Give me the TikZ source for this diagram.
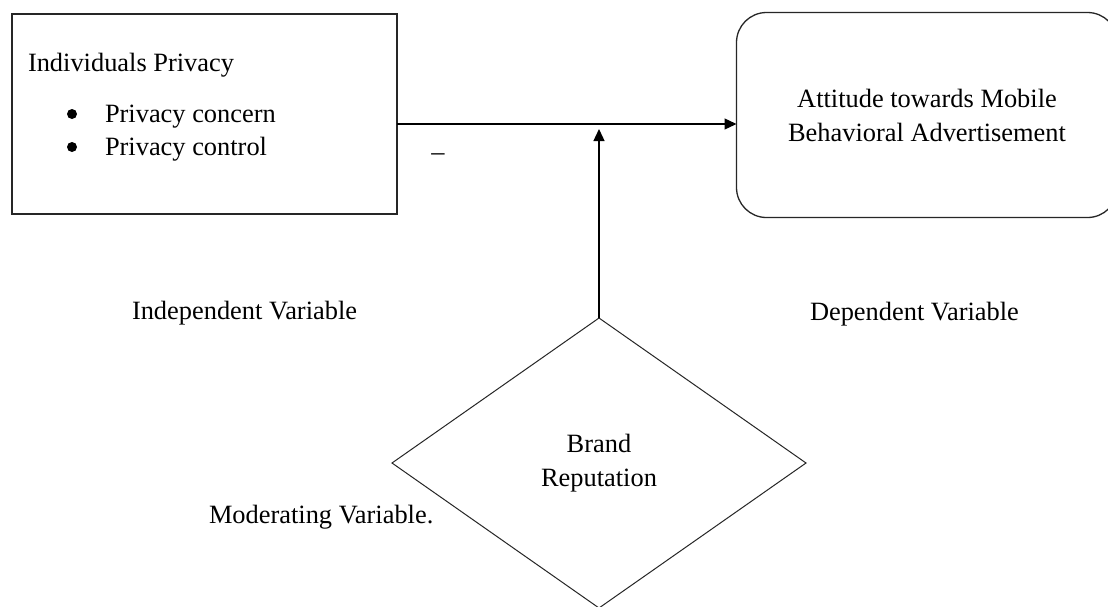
\documentclass[tikz,border=0pt]{standalone}
\usepackage{fontspec}
\setmainfont{Liberation Serif}
\usetikzlibrary{shapes.geometric,arrows.meta}
\begin{document}
\begin{tikzpicture}[x=1pt,y=-1pt,
  every node/.style={font=\fontsize{26.4}{34}\selectfont, inner sep=0pt, outer sep=0pt},
  boxline/.style={draw=black!85, line width=1.3pt},
  conn/.style={black, line width=1.3pt, -{Triangle[length=12pt,width=11pt]}},
  lbl/.style={anchor=base west},
  bul/.style={circle, fill=black, minimum size=10pt},
]
\useasboundingbox (0,0) rectangle (1108,606);
\clip (0,0) rectangle (1108,606);
\fill[white] (0,0) rectangle (1108,606);

% left box
\node[boxline, minimum width=385pt, minimum height=200pt] (ip) at (204.5,114) {};
\node[lbl] (ipt) at (28,71) {Individuals Privacy};
\node[bul] (b1) at (72,114) {};
\node[lbl] (c1) at (105,122) {Privacy concern};
\node[bul] (b2) at (72,147) {};
\node[lbl] (c2) at (105,155) {Privacy control};

% right rounded box
\node[boxline, rounded corners=30pt, minimum width=381pt, minimum height=205pt, align=center] (att) at (927,115)
  {Attitude towards Mobile\\Behavioral Advertisement};

% diamond
\node[boxline, line width=1pt, diamond, minimum width=414pt, minimum height=290pt, align=center] (br) at (599,463)
  {Brand\\Reputation};

% connectors
\coordinate (h) at (0,124);
\coordinate (m) at (600,129);
\draw[conn] (ip.east |- h) -- (att.west |- h);
\draw[conn] (br.north) -- (br.north |- m);

% labels
\node[anchor=base] (dash) at (438,160) {–};
\node[lbl] (iv) at (132,319) {Independent Variable};
\node[lbl] (dv) at (810,320) {Dependent Variable};
\node[lbl] (mv) at (209,523) {Moderating Variable.};
\end{tikzpicture}
\end{document}
